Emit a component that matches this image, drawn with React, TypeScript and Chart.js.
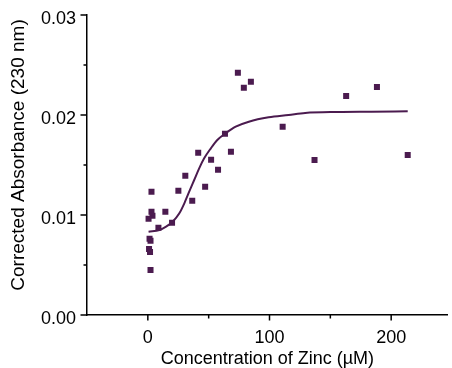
import React, { useEffect, useRef } from 'react';
import { Chart, registerables } from 'chart.js';

Chart.register(...registerables);

// Measured data (Concentration of Zinc, µM vs corrected absorbance at 230 nm)
const zincConc = [74, 84.7, 78.9, 110.8, 63.4, 41.4, 68.3, 52, 57.7, 30.8, 25.1, 47.1, 36.5, 3, 14.4, 3, 3.8, 0.6, 8.7, 19.9, 1.4, 2.2, 1, 1.8, 2.2, 188.3, 163, 137, 213.6];
const absorbance = [0.02423, 0.02333, 0.02273, 0.01883, 0.01813, 0.01623, 0.01633, 0.01553, 0.01453, 0.01393, 0.01243, 0.01283, 0.01143, 0.01233, 0.01033, 0.01033, 0.00993, 0.00963, 0.00873, 0.00923, 0.00763, 0.00743, 0.0066, 0.0063, 0.0045, 0.0228, 0.0219, 0.0155, 0.016];

// Fitted curve
const fitConc = [0.6, 9.6, 15, 20.4, 25.9, 30, 34, 38.1, 42.2, 46.3, 51.8, 57.1, 64, 72.2, 83, 99.3, 115.7, 129.3, 156.5, 183.7, 213.6];
const fitAbs = [0.00833, 0.0085, 0.00883, 0.00933, 0.01017, 0.01117, 0.01233, 0.0135, 0.01467, 0.01567, 0.01667, 0.0175, 0.01817, 0.01883, 0.01933, 0.01977, 0.02, 0.0202, 0.0203, 0.02033, 0.02037];

// Axis ticks
const xMajorTicks = [0, 100, 200];
const xTickLabels = ['0', '100', '200'];
const xMinorTicks = [50, 150];
const yMajorTicks = [0, 0.01, 0.02, 0.03];
const yTickLabels = ['0.00', '0.01', '0.02', '0.03'];
const yMinorTicks = [0.005, 0.015, 0.025];

const xTitle = 'Concentration of Zinc (µM)';
const yTitle = 'Corrected Absorbance (230 nm)';

const PURPLE = '#4b1b4f';
const FONT = "'Liberation Sans', Arial, sans-serif";

function labelFor(value: number, majors: number[], labels: string[]) {
  for (let i = 0; i < majors.length; i++) {
    if (Math.abs(value - majors[i]) < 1e-9) return labels[i];
  }
  return '';
}

const tickMarksPlugin = {
  id: 'tickMarks',
  afterDraw(chart: any) {
    const { ctx, chartArea } = chart;
    const xs = chart.scales.x;
    const ys = chart.scales.y;
    ctx.save();
    ctx.strokeStyle = '#000';
    ctx.lineWidth = 1.5;
    const drawY = (v: number, len: number) => {
      const py = ys.getPixelForValue(v);
      ctx.beginPath();
      ctx.moveTo(chartArea.left - len, py);
      ctx.lineTo(chartArea.left, py);
      ctx.stroke();
    };
    const drawX = (v: number, len: number) => {
      const px = xs.getPixelForValue(v);
      ctx.beginPath();
      ctx.moveTo(px, chartArea.bottom);
      ctx.lineTo(px, chartArea.bottom + len);
      ctx.stroke();
    };
    yMajorTicks.forEach((v) => drawY(v, 6.5));
    yMinorTicks.forEach((v) => drawY(v, 3.5));
    xMajorTicks.forEach((v) => drawX(v, 5.5));
    xMinorTicks.forEach((v) => drawX(v, 3.5));

    // y axis title
    ctx.fillStyle = '#000';
    ctx.font = `19px ${FONT}`;
    ctx.textAlign = 'center';
    ctx.textBaseline = 'middle';
    ctx.translate(19, (chartArea.top + chartArea.bottom) / 2 - 10);
    ctx.rotate(-Math.PI / 2);
    ctx.fillText(yTitle, 0, 0);
    ctx.restore();
  },
};

export default function App() {
  const ref = useRef<HTMLCanvasElement | null>(null);

  useEffect(() => {
    if (!ref.current) return;
    const chart = new Chart(ref.current, {
      type: 'scatter',
      data: {
        datasets: [
          {
            type: 'line',
            data: fitConc.map((x, i) => ({ x, y: fitAbs[i] })),
            borderColor: PURPLE,
            borderWidth: 2,
            pointRadius: 0,
            fill: false,
            showLine: true,
            cubicInterpolationMode: 'monotone',
            order: 0,
          } as any,
          {
            data: zincConc.map((x, i) => ({ x, y: absorbance[i] })),
            backgroundColor: PURPLE,
            borderColor: PURPLE,
            borderWidth: 0,
            pointStyle: 'rect',
            pointRadius: 4.25,
            order: 1,
          } as any,
        ],
      },
      options: {
        responsive: false,
        animation: false,
        devicePixelRatio: 1,
        layout: { padding: { left: 0, top: 15, right: 1.8, bottom: 0 } },
        plugins: { legend: { display: false }, tooltip: { enabled: false } },
        scales: {
          x: {
            type: 'linear',
            min: -50,
            max: 246.5,
            grid: { display: false, drawTicks: false },
            border: { display: true, color: '#000', width: 1.5 },
            ticks: {
              stepSize: 50,
              includeBounds: false,
              autoSkip: false,
              maxRotation: 0,
              padding: 12,
              color: '#000',
              font: { family: FONT, size: 18 },
              callback: (v: any) => labelFor(Number(v), xMajorTicks, xTickLabels),
            },
            title: {
              display: true,
              text: xTitle,
              color: '#000',
              font: { family: FONT, size: 18, lineHeight: 1 },
              padding: 0,
            },
            afterFit: (s: any) => {
              s.height = 53;
              s.paddingLeft = 0;
              s.paddingRight = 0;
            },
          },
          y: {
            type: 'linear',
            min: 0,
            max: 0.03,
            grid: { display: false, drawTicks: false },
            border: { display: true, color: '#000', width: 1.5 },
            ticks: {
              stepSize: 0.005,
              autoSkip: false,
              padding: 11,
              labelOffset: 4,
              color: '#000',
              font: { family: FONT, size: 18 },
              callback: (v: any) => labelFor(Number(v), yMajorTicks, yTickLabels),
            },
            title: { display: false },
            afterFit: (s: any) => {
              s.width = 87;
              s.paddingTop = 0;
              s.paddingBottom = 0;
            },
          },
        },
      },
      plugins: [tickMarksPlugin],
    });
    return () => chart.destroy();
  }, []);

  return (
    <div style={{ position: 'fixed', left: 0, top: 0, width: 452, height: 368 }}>
      <canvas ref={ref} width={452} height={368} style={{ display: 'block' }} />
    </div>
  );
}
